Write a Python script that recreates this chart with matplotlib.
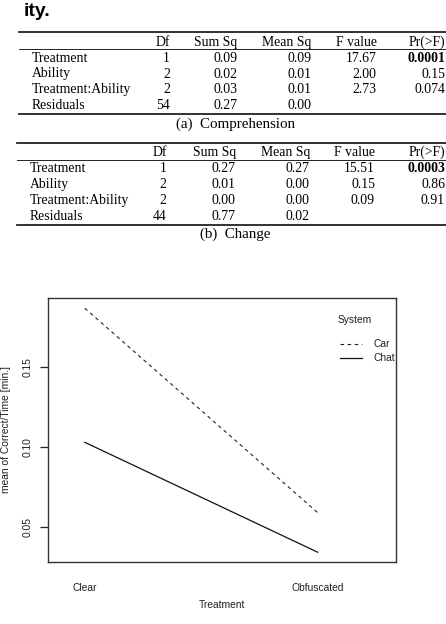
import matplotlib
matplotlib.use("Agg")
import matplotlib.pyplot as plt
from matplotlib.lines import Line2D

W, H = 446, 624

# ---- table data ----
row_labels = ["Treatment", "Ability", "Treatment:Ability", "Residuals"]
col_headers = ["Df", "Sum Sq", "Mean Sq", "F value", "Pr(>F)"]

a_df = ["1", "2", "2", "54"]
a_sumsq = ["0.09", "0.02", "0.03", "0.27"]
a_meansq = ["0.09", "0.01", "0.01", "0.00"]
a_fvalue = ["17.67", "2.00", "2.73", ""]
a_pr = ["0.0001", "0.15", "0.074", ""]
a_caption = "(a)  Comprehension"

b_df = ["1", "2", "2", "44"]
b_sumsq = ["0.27", "0.01", "0.00", "0.77"]
b_meansq = ["0.27", "0.00", "0.00", "0.02"]
b_fvalue = ["15.51", "0.15", "0.09", ""]
b_pr = ["0.0003", "0.86", "0.91", ""]
b_caption = "(b)  Change"

# ---- interaction plot data ----
treatment_levels = ["Clear", "Obfuscated"]
car_means = [0.1867, 0.0589]
chat_means = [0.1029, 0.0342]
y_ticks = [0.05, 0.10, 0.15]

fig = plt.figure(figsize=(W / 100, H / 100), dpi=100)

def fx(x):
    return x / W

def fy(y):
    return 1 - y / H

def hline(x0, x1, y, lw):
    fig.add_artist(Line2D([fx(x0), fx(x1)], [fy(y), fy(y)], color="#222222",
                          linewidth=lw, transform=fig.transFigure))

serif = "Liberation Serif"
sans = "Liberation Sans"
tfs = 9.9

fig.text(fx(23.5), fy(15.7), "ity.", fontsize=14, fontweight="bold",
         family=sans, va="baseline", ha="left")

def draw_table(top, x0, label_x, col_right, baselines, cols, caption, cap_x, cap_y,
               mid, bottom):
    hline(x0, W, top, 1.3)
    hline(x0, W, mid, 0.7)
    hline(x0, W, bottom, 1.3)
    for h, xr in zip(col_headers, col_right):
        fig.text(fx(xr), fy(baselines[0]), h, fontsize=tfs, family=serif,
                 ha="right", va="baseline")
    for i, lab in enumerate(row_labels):
        yb = baselines[i + 1]
        fig.text(fx(label_x), fy(yb), lab, fontsize=tfs, family=serif,
                 ha="left", va="baseline")
        for j, (col, xr) in enumerate(zip(cols, col_right)):
            val = col[i]
            if not val:
                continue
            bold = (j == 4 and i == 0)
            fig.text(fx(xr), fy(yb), val, fontsize=tfs, family=serif,
                     ha="right", va="baseline",
                     fontweight="bold" if bold else "normal")
    fig.text(fx(cap_x), fy(cap_y), caption, fontsize=10.8, family=serif,
             ha="center", va="baseline")

draw_table(32.3, 19, 31.7, [170, 237.7, 311.7, 376.7, 445],
           [45.6, 61.8, 77.5, 93.3, 109.4],
           [a_df, a_sumsq, a_meansq, a_fvalue, a_pr], a_caption, 236, 128.3,
           49, 114.3)
draw_table(143.3, 17, 30, [166.7, 236, 310, 375, 445],
           [156.2, 171.8, 187.8, 203.8, 220.2],
           [b_df, b_sumsq, b_meansq, b_fvalue, b_pr], b_caption, 235, 237.7,
           160, 225)

# ---- interaction plot ----
L, R, T, B = 48, 396, 298, 562
ax = fig.add_axes([fx(L), fy(B), fx(R) - fx(L), fy(T) - fy(B)])
xs = list(range(1, len(treatment_levels) + 1))
ax.plot(xs, car_means, color="#222222", linewidth=0.8, linestyle=(0, (3.2, 3.2)))
ax.plot(xs, chat_means, color="#111111", linewidth=0.9)
ax.set_xlim(0.842, 2.336)
ax.set_ylim(0.0281, 0.1931)
for s in ax.spines.values():
    s.set_linewidth(1.0)
    s.set_color("#333333")

ax.set_yticks(y_ticks)
ax.set_yticklabels([f"{v:.2f}" for v in y_ticks], rotation=90, va="center",
                   family=sans, fontsize=7.4, color="#222222")
ax.tick_params(axis="y", length=6, width=0.9, pad=5, color="#222222")
ax.set_xticks(xs)
ax.set_xticklabels(treatment_levels, family=sans, fontsize=7.4, color="#222222")
ax.tick_params(axis="x", length=0, pad=15)

fig.text(fx(222), fy(608.5), "Treatment", family=sans, fontsize=7.4,
         ha="center", va="baseline", color="#222222")
fig.text(fx(6), fy(430), "mean of Correct/Time [min.]", family=sans, fontsize=7.4,
         ha="center", va="center", rotation=90, color="#222222")

# legend
fig.text(fx(338), fy(320), "System", family=sans, fontsize=7.4, ha="left",
         va="center", color="#222222")
fig.add_artist(Line2D([fx(340), fx(362)], [fy(344), fy(344)], color="#222222",
                      linewidth=0.8, linestyle=(0, (3.2, 3.2)),
                      transform=fig.transFigure))
fig.add_artist(Line2D([fx(340), fx(362)], [fy(357.7), fy(357.7)], color="#111111",
                      linewidth=0.9, transform=fig.transFigure))
fig.text(fx(373), fy(344), "Car", family=sans, fontsize=7.4, ha="left",
         va="center", color="#222222")
fig.text(fx(373), fy(357.7), "Chat", family=sans, fontsize=7.4, ha="left",
         va="center", color="#222222")

fig.savefig("out.png", dpi=100)
